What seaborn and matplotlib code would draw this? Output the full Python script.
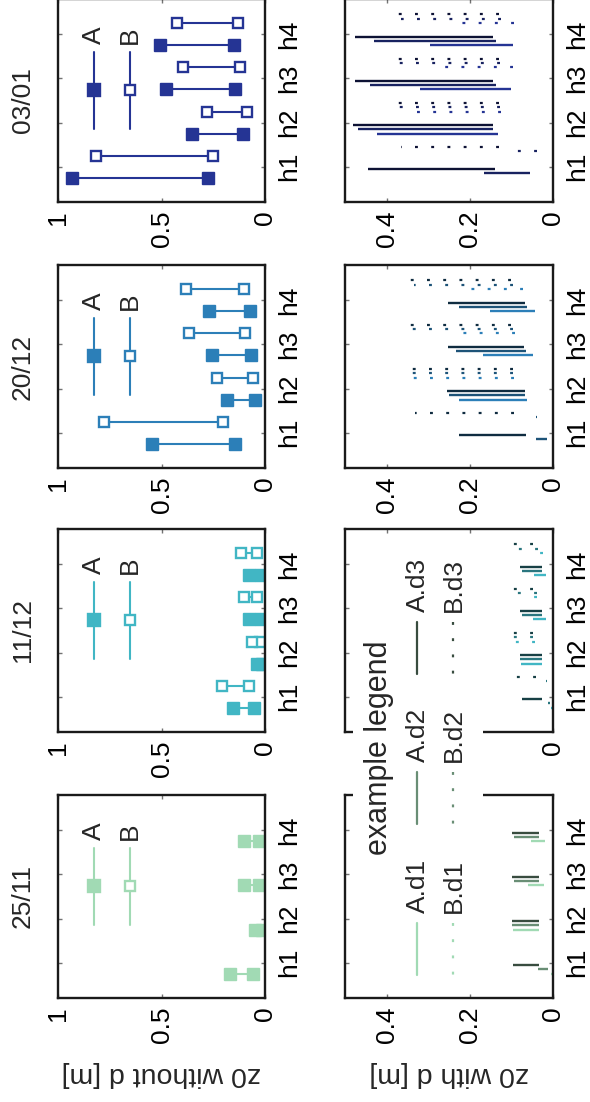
import numpy as np
import matplotlib
matplotlib.use("Agg")
import matplotlib.pyplot as plt
import seaborn as sns
from matplotlib.lines import Line2D
from matplotlib.patches import Rectangle

nan = np.nan

dates = ["25/11", "11/12", "20/12", "03/01"]
heights = ["h1", "h2", "h3", "h4"]
d_names = ["d1", "d2", "d3"]

# z0 without d [m]: range (low, high) per date, per height
a_nod_lo = [[0.056, 0.013, 0.03, 0.03], [0.053, 0.013, 0.021, 0.021],
            [0.145, 0.048, 0.069, 0.073], [0.274, 0.105, 0.144, 0.15]]
a_nod_hi = [[0.17, 0.047, 0.1, 0.1], [0.153, 0.04, 0.076, 0.079],
            [0.548, 0.182, 0.255, 0.271], [0.931, 0.355, 0.48, 0.505]]
b_nod_lo = [[nan, nan, nan, nan], [0.076, 0.024, 0.04, 0.04],
            [0.205, 0.06, 0.097, 0.1], [0.25, 0.089, 0.121, 0.132]]
b_nod_hi = [[nan, nan, nan, nan], [0.21, 0.065, 0.1, 0.118],
            [0.779, 0.234, 0.368, 0.384], [0.815, 0.282, 0.398, 0.424]]

# z0 with d [m]: range per date, per d (d1, d2, d3), per height
a_d_lo = [
    [[0.0, 0.033, 0.021, 0.02], [0.013, 0.033, 0.033, 0.033], [0.033, 0.033, 0.033, 0.033]],
    [[0.0, 0.027, 0.018, 0.017], [0.008, 0.027, 0.026, 0.026], [0.026, 0.027, 0.027, 0.027]],
    [[0.0, 0.062, 0.048, 0.044], [0.014, 0.068, 0.064, 0.062], [0.064, 0.068, 0.069, 0.068]],
    [[0.0, 0.133, 0.102, 0.096], [0.056, 0.144, 0.137, 0.136], [0.139, 0.144, 0.145, 0.145]],
]
a_d_hi = [
    [[0.004, 0.095, 0.059, 0.052], [0.035, 0.098, 0.093, 0.093], [0.095, 0.098, 0.098, 0.098]],
    [[0.004, 0.078, 0.047, 0.046], [0.012, 0.079, 0.074, 0.074], [0.074, 0.079, 0.079, 0.079]],
    [[0.003, 0.227, 0.169, 0.152], [0.04, 0.249, 0.233, 0.227], [0.226, 0.254, 0.253, 0.253]],
    [[0.003, 0.423, 0.32, 0.296], [0.167, 0.468, 0.44, 0.431], [0.445, 0.48, 0.477, 0.477]],
]
b_d_lo = [
    [[nan] * 4, [nan] * 4, [nan] * 4],
    [[0.0, 0.043, 0.038, 0.023], [0.014, 0.047, 0.038, 0.036], [0.04, 0.047, 0.047, 0.047]],
    [[0.0, 0.094, 0.092, 0.072], [0.038, 0.097, 0.097, 0.097], [0.094, 0.097, 0.102, 0.1]],
    [[0.0, 0.125, 0.097, 0.094], [0.038, 0.127, 0.127, 0.125], [0.131, 0.131, 0.131, 0.131]],
]
b_d_hi = [
    [[nan] * 4, [nan] * 4, [nan] * 4],
    [[0.003, 0.101, 0.066, 0.054], [0.018, 0.105, 0.098, 0.094], [0.098, 0.105, 0.105, 0.105]],
    [[0.003, 0.344, 0.242, 0.219], [0.042, 0.36, 0.34, 0.334], [0.332, 0.365, 0.365, 0.363]],
    [[0.003, 0.359, 0.273, 0.244], [0.098, 0.389, 0.369, 0.365], [0.365, 0.397, 0.395, 0.395]],
]

# colours: YlGnBu per date, darker for d2, d3
date_colors = ["#a1dab4", "#41b6c4", "#2c7fb8", "#253494"]
shade = [1.0, 0.65, 0.35]

sns.set_theme(style="white")
plt.rcParams["font.family"] = ["Liberation Sans", "DejaVu Sans"]

W, H = 590, 1102
fig = plt.figure(figsize=(W / 100, H / 100), dpi=100)


def fx(px):
    return px / W


def fy(py):
    return 1 - py / H


def darker(c, f):
    r, g, b = matplotlib.colors.to_rgb(c)
    return (r * f, g * f, b * f)


dots = (0, (1.3, 6))
pos = np.arange(1, 5)
panel_bottom = [998, 732, 468, 202]
ph = 203
fs = 19


def style_axis(ax, vmax, vticks, vlabels):
    ax.set_xlim(vmax, 0)
    ax.set_ylim(0.2, 4.8)
    ax.set_xticks(vticks)
    ax.set_xticklabels(vlabels, rotation=90, fontsize=fs)
    ax.set_yticks(pos)
    ax.set_yticklabels(heights, rotation=90, va="center", fontsize=fs)
    ax.tick_params(direction="in", length=3, width=1, color="0.45",
                   top=True, bottom=True, left=True, right=True,
                   labelleft=False, labelright=True, labelcolor="black")
    ax.tick_params(axis="x", pad=6)
    ax.tick_params(axis="y", pad=9)
    for s in ax.spines.values():
        s.set_color("#1a1a1a")
        s.set_linewidth(1.7)
    ax.grid(False)


for i, date in enumerate(dates):
    c = date_colors[i]
    bottom = fy(panel_bottom[i])
    ax1 = fig.add_axes([fx(58), bottom, fx(207), ph / H])
    ax2 = fig.add_axes([fx(345), bottom, fx(208), ph / H])

    # without d: range bars with square markers
    for j in range(4):
        ax1.plot([a_nod_lo[i][j], a_nod_hi[i][j]], [pos[j] - 0.25] * 2, color=c, lw=1.5,
                 marker="s", ms=8.7, mfc=c, mec=c)
        ax1.plot([b_nod_lo[i][j], b_nod_hi[i][j]], [pos[j] + 0.25] * 2, color=c, lw=1.5,
                 marker="s", ms=7.6, mfc="white", mec=c, mew=1.7)
    style_axis(ax1, 1, [1, 0.5, 0], ["1", "0.5", "0"])
    ax1.text(-0.17, 0.5, date, rotation=90, ha="center", va="center",
             fontsize=fs, transform=ax1.transAxes)

    # small A / B key inside each panel
    for lx, name, filled in [(0.174, "A", True), (0.348, "B", False)]:
        ax1.plot([lx, lx], [0.36, 0.74], color=c, lw=1.5, transform=ax1.transAxes)
        ax1.plot([lx], [0.55], marker="s", ms=8.7 if filled else 7.6,
                 mfc=c if filled else "white", mec=c, mew=1.7, transform=ax1.transAxes)
        ax1.text(lx, 0.82, name, rotation=90, ha="center", va="center",
                 fontsize=fs, transform=ax1.transAxes)

    # with d: thin range lines per d
    for k in range(3):
        ck = darker(c, shade[k])
        for j in range(4):
            ax2.plot([a_d_lo[i][k][j], a_d_hi[i][k][j]], [pos[j] - 0.25 + 0.1 * k] * 2,
                     color=ck, lw=1.7, solid_capstyle="butt")
            ax2.plot([b_d_lo[i][k][j], b_d_hi[i][k][j]], [pos[j] + 0.25 + 0.1 * k] * 2,
                     color=ck, lw=1.6, ls=dots)
    style_axis(ax2, 0.5, [0.4, 0.2, 0], ["0.4", "0.2", "0"])
    if i == 1:
        # these labels sit under the shared legend box
        for lab in ax2.get_xticklabels()[:2]:
            lab.set_visible(False)

    if i == 0:
        ax1.text(0.5, -0.375, "z0 without d [m]", rotation=180, ha="center", va="center",
                 fontsize=20.5, transform=ax1.transAxes)
        ax2.text(0.5, -0.375, "z0 with d [m]", rotation=180, ha="center", va="center",
                 fontsize=20.5, transform=ax2.transAxes)

# shared legend for the "with d" panels
fig.add_artist(Rectangle((fx(353), fy(988)), fx(483 - 353), (988 - 545) / H,
                         transform=fig.transFigure, facecolor="white", edgecolor="none", zorder=5))
fig.text(fx(379), fy(748), "example legend", rotation=90, ha="center", va="center",
         fontsize=22, zorder=6)
line_tops = [923, 772, 622]
for k in range(3):
    ck = darker(date_colors[0], shade[k])
    top = line_tops[k]
    for lx, name, ls in [(417, "A", "-"), (453, "B", dots)]:
        fig.add_artist(Line2D([fx(lx), fx(lx)], [fy(top), fy(top + 52)], color=ck, lw=1.6,
                              ls=ls, transform=fig.transFigure, zorder=6))
        fig.text(fx(lx + 1), fy(top - 10), name + "." + d_names[k], rotation=90,
                 ha="center", va="bottom", fontsize=fs, zorder=6)

fig.savefig("out.png", dpi=100)
